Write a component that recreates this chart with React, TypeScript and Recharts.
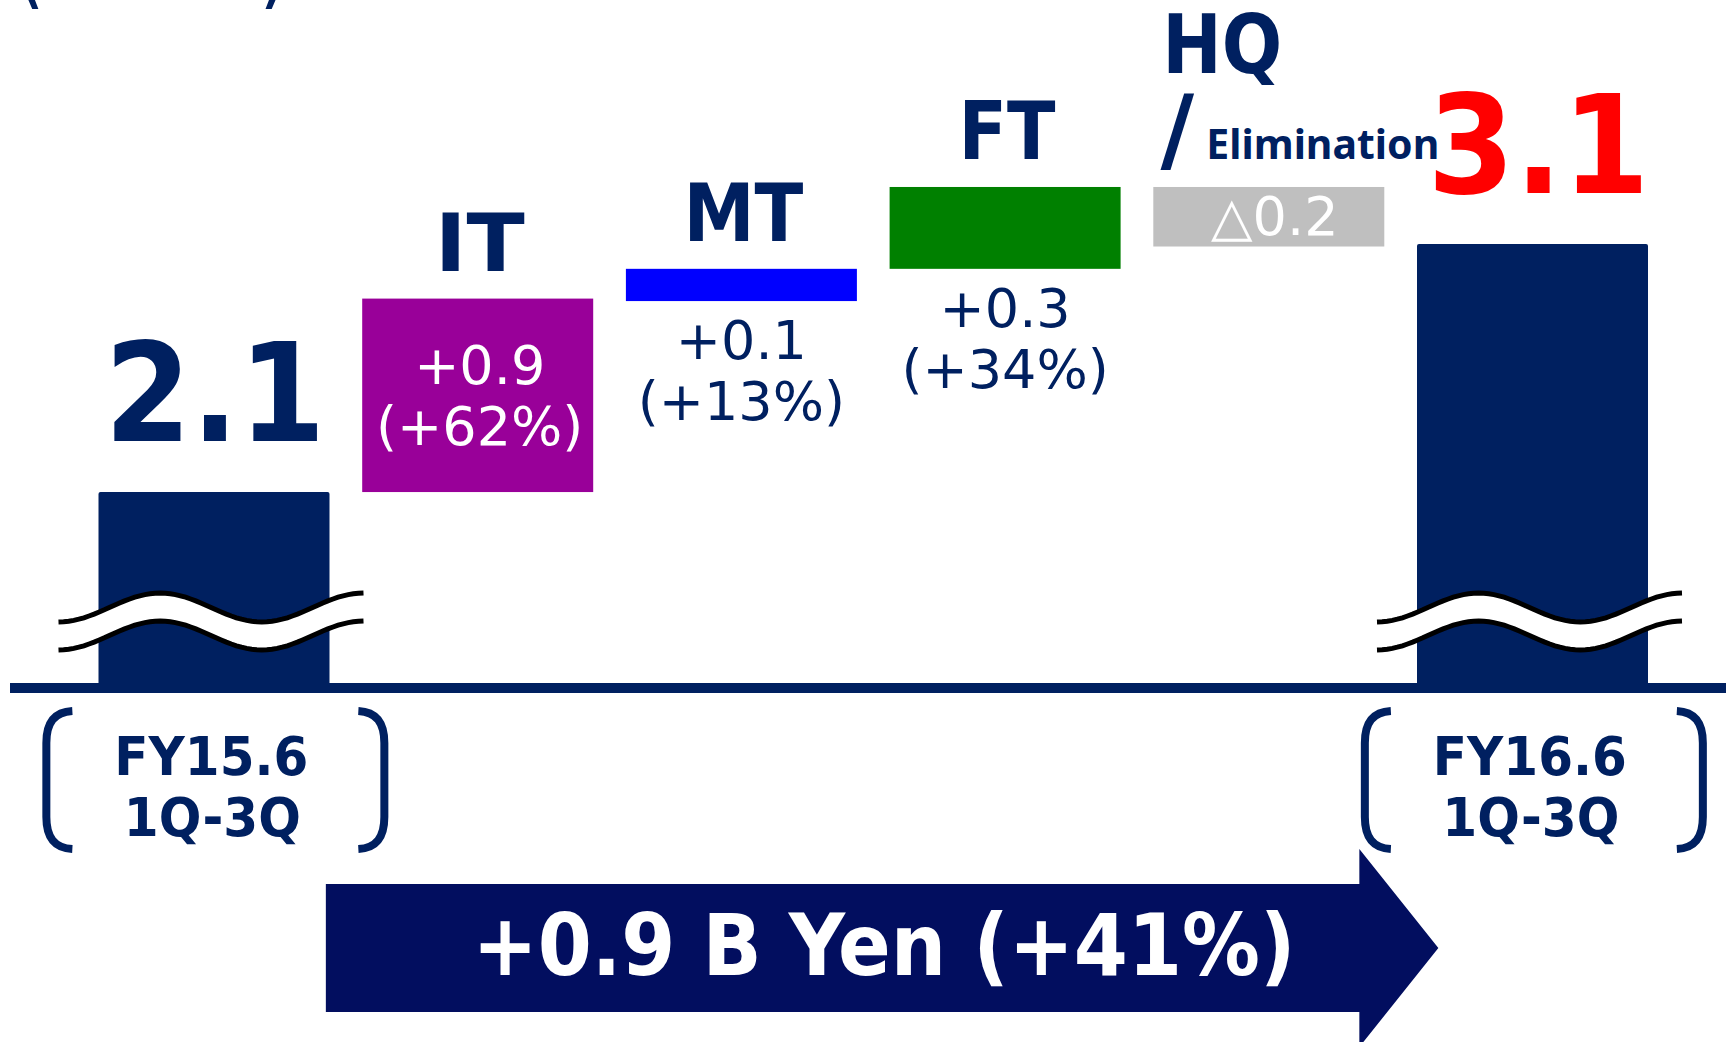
import React from 'react';
import { BarChart, Bar, XAxis, YAxis } from 'recharts';

// categories of the waterfall (periods at both ends, segments in between)
const categories = ['FY15.6\n1Q-3Q', 'IT', 'MT', 'FT', 'HQ/Elimination', 'FY16.6\n1Q-3Q'];
// period totals (B Yen)
const totals = [2.1, 3.1];
const totalLabels = ['2.1', '3.1'];
// segment steps as drawn: level before -> level after
const stepFrom = [2.1, 2.87, 3.0, 3.33];
const stepTo = [2.88, 3.0, 3.33, 3.09];
const deltaLabels = ['+0.9', '+0.1', '+0.3', '△0.2'];
const pctLabels = ['(+62%)', '(+13%)', '(+34%)', ''];
const barColors = ['#002060', '#990099', '#0000FF', '#008000', '#BFBFBF', '#002060'];
const changeLabel = '+0.9 B Yen (+41%)';
const unitLabel = '(B Yen)';

const W = 1726;
const H = 1042;
const NAVY = '#002060';
const ARROW = '#020E5F';
const FONT = '"DejaVu Sans", Verdana, sans-serif';
const MARGIN = { top: 58, right: 0, bottom: 350, left: 10 };
const PAD = { left: 72.5, right: 61.3 };
const BAR_SIZE = 231;

const chartData = categories.map((name, i) => {
  const last = categories.length - 1;
  if (i === 0 || i === last) {
    const t = i === 0 ? 0 : 1;
    return { name, range: totals[t], total: true, label: totalLabels[t], color: barColors[i] };
  }
  const a = stepFrom[i - 1];
  const b = stepTo[i - 1];
  return {
    name,
    range: [Math.min(a, b), Math.max(a, b)],
    total: false,
    delta: deltaLabels[i - 1],
    pct: pctLabels[i - 1],
    color: barColors[i],
  };
});

// double wavy "axis break" mark
const breakMark = (x0: number, x1: number, yTrough: number) => {
  const n = 60, amp = 29, gap = 28;
  const pts: number[][] = [];
  for (let k = 0; k <= n; k++) {
    const t = k / n;
    pts.push([x0 + t * (x1 - x0), yTrough - amp * (0.5 - 0.5 * Math.cos(3 * Math.PI * t))]);
  }
  const up = pts.map(p => `${p[0].toFixed(1)},${p[1].toFixed(1)}`);
  const low = pts.map(p => `${p[0].toFixed(1)},${(p[1] + gap).toFixed(1)}`);
  const band = 'M' + up.join(' L') + ' L' + [...low].reverse().join(' L') + ' Z';
  return (
    <g>
      <path d={band} fill="#fff" />
      <path d={'M' + up.join(' L')} fill="none" stroke="#000" strokeWidth={5} />
      <path d={'M' + low.join(' L')} fill="none" stroke="#000" strokeWidth={5} />
    </g>
  );
};

const renderBar = (props: any) => {
  const { x, y, width, height } = props;
  const d = props.payload ?? props;
  const cx = x + width / 2;
  const bottom = y + height;

  if (d.total) {
    const isEnd = d.name === categories[categories.length - 1];
    return (
      <g>
        <rect x={x} y={y} width={width} height={height} fill={d.color} rx={2} />
        {breakMark(x - 40, x + width + 34, bottom - 66)}
        <text x={isEnd ? cx + 6 : cx + 1} y={y - 51} textAnchor="middle" fontFamily={FONT} fontWeight="bold" fontSize={137}
          fill={isEnd ? '#FF0000' : NAVY} textLength={isEnd ? 222 : 221} lengthAdjust="spacingAndGlyphs">
          {d.label}
        </text>
      </g>
    );
  }

  const parts = String(d.name).split('/');
  let title;
  if (parts.length > 1) {
    title = (
      <g fill={NAVY} fontWeight="bold">
        <text x={x + 9} y={y - 114} fontFamily={FONT} fontSize={82} textLength={120} lengthAdjust="spacingAndGlyphs">{parts[0]}</text>
        <text x={x + 24} y={y - 26} fontFamily={FONT} fontSize={92} textAnchor="middle">/</text>
        <text x={x + 53} y={y - 28} fontFamily='"Noto Sans", sans-serif' fontSize={41} textLength={233} lengthAdjust="spacingAndGlyphs">{parts[1]}</text>
      </g>
    );
  } else {
    const tw: Record<string, number> = { IT: 90, MT: 120, FT: 97 };
    title = (
      <text x={cx + 2} y={y - 28} textAnchor="middle" fontFamily={FONT} fontWeight="bold" fontSize={81} fill={NAVY}
        textLength={tw[parts[0]]} lengthAdjust="spacingAndGlyphs">{parts[0]}</text>
    );
  }

  let values;
  if (!d.pct) {
    values = (
      <text x={cx + 6} y={y + 48} textAnchor="middle" fontFamily={FONT} fontSize={54} fill="#fff">{d.delta}</text>
    );
  } else if (height > 150) {
    values = (
      <g fontFamily={FONT} fontSize={54} fill="#fff" textAnchor="middle">
        <text x={cx + 2} y={y + 85}>{d.delta}</text>
        <text x={cx + 2} y={y + 146}>{d.pct}</text>
      </g>
    );
  } else {
    values = (
      <g fontFamily={FONT} fontSize={54} fill={NAVY} textAnchor="middle">
        <text x={cx} y={bottom + 58}>{d.delta}</text>
        <text x={cx} y={bottom + 119}>{d.pct}</text>
      </g>
    );
  }

  return (
    <g>
      <rect x={x} y={y} width={width} height={height} fill={d.color} />
      {title}
      {values}
    </g>
  );
};

const bracket = (xo: number, dir: number, yt: number, yb: number) => {
  const h = 26 * dir;
  return (
    <path
      d={`M${xo + h},${yt} C${xo + h * 0.3},${yt + 1} ${xo},${yt + 12} ${xo},${yt + 32} L${xo},${yb - 32} C${xo},${yb - 12} ${xo + h * 0.3},${yb - 1} ${xo + h},${yb}`}
      fill="none" stroke={NAVY} strokeWidth={8}
    />
  );
};

const renderTick = (props: any) => {
  const { x, y, payload } = props;
  const lines = String(payload.value).split('\n');
  if (lines.length < 2) return <g />;
  return (
    <g>
      {bracket(x - 168, 1, y + 23, y + 161)}
      {bracket(x + 170, -1, y + 23, y + 161)}
      <text x={x - 3} y={y + 87} textAnchor="middle" fontFamily={FONT} fontWeight="bold" fontSize={54} fill={NAVY}
        textLength={194} lengthAdjust="spacingAndGlyphs">{lines[0]}</text>
      <text x={x - 2} y={y + 148} textAnchor="middle" fontFamily={FONT} fontWeight="bold" fontSize={54} fill={NAVY}
        textLength={177} lengthAdjust="spacingAndGlyphs">{lines[1]}</text>
    </g>
  );
};

export default function App() {
  // arrow from the first period bar to the last
  const band = (W - MARGIN.left - MARGIN.right - PAD.left - PAD.right) / categories.length;
  const c0 = MARGIN.left + PAD.left + band / 2;
  const cN = c0 + band * (categories.length - 1);
  const shaftL = c0 + BAR_SIZE / 2 - 4;
  const tip = cN - BAR_SIZE / 2 + 21;
  const headX = tip - 79;
  const sTop = 884, sBot = 1012, mid = (sTop + sBot) / 2, half = 99;

  return (
    <div style={{ position: 'absolute', left: 0, top: 0, width: W, height: H, background: '#fff', fontFamily: FONT }}>
      <BarChart width={W} height={H} data={chartData} margin={MARGIN} barSize={BAR_SIZE}>
        <YAxis hide type="number" domain={[1.31, 3.85]} />
        <XAxis
          dataKey="name"
          interval={0}
          height={4}
          tickLine={false}
          tickSize={0}
          tickMargin={0}
          padding={PAD}
          axisLine={{ stroke: NAVY, strokeWidth: 10 }}
          tick={renderTick}
        />
        <Bar dataKey="range" isAnimationActive={false} shape={renderBar} />
      </BarChart>
      <svg width={W} height={H} style={{ position: 'absolute', left: 0, top: 0 }}>
        <path
          d={`M${shaftL},${sTop} L${headX},${sTop} L${headX},${mid - half} L${tip},${mid} L${headX},${mid + half} L${headX},${sBot} L${shaftL},${sBot} Z`}
          fill={ARROW}
        />
        <text x={884} y={975} textAnchor="middle" fontFamily={FONT} fontWeight="bold" fontSize={85} fill="#fff"
          textLength={823} lengthAdjust="spacingAndGlyphs">{changeLabel}</text>
        <text x={14} y={-4} fontFamily={FONT} fontSize={104} fill={NAVY}
          textLength={276} lengthAdjust="spacingAndGlyphs">{unitLabel}</text>
      </svg>
    </div>
  );
}
